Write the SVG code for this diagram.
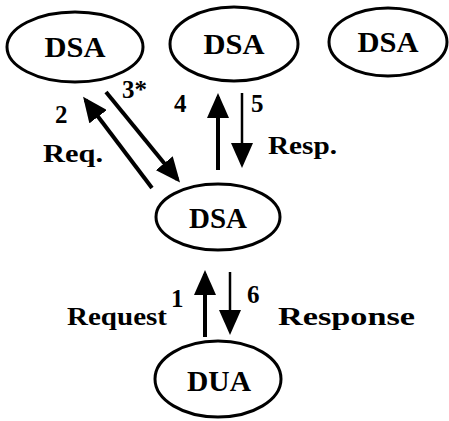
<svg xmlns="http://www.w3.org/2000/svg" width="449" height="421" viewBox="0 0 449 421">
<style>
.node ellipse{fill:#fff;stroke:#000;stroke-width:3}
.req{stroke:#000;stroke-width:4;fill:none}
.resp{stroke:#000;stroke-width:2.5;fill:none}
</style>
<defs>
<marker id="ah" viewBox="0 0 25 22" refX="21" refY="11" markerWidth="25" markerHeight="22" markerUnits="userSpaceOnUse" orient="auto">
<path d="M0,0 L25,11 L0,22 z" fill="#000"/>
</marker>
</defs>
<rect width="449" height="421" fill="#fff"/>
<g id="dsa-left" class="node"><ellipse cx="75" cy="47" rx="68" ry="35"/><text x="75" y="57" font-family="Liberation Serif" font-weight="bold" font-size="29" text-anchor="middle" textLength="61" lengthAdjust="spacingAndGlyphs">DSA</text></g>
<g id="dsa-mid" class="node"><ellipse cx="234" cy="44" rx="64" ry="37"/><text x="234" y="54" font-family="Liberation Serif" font-weight="bold" font-size="29" text-anchor="middle" textLength="61" lengthAdjust="spacingAndGlyphs">DSA</text></g>
<g id="dsa-right" class="node"><ellipse cx="388" cy="42" rx="59" ry="34"/><text x="388" y="52" font-family="Liberation Serif" font-weight="bold" font-size="29" text-anchor="middle" textLength="61" lengthAdjust="spacingAndGlyphs">DSA</text></g>
<g id="dsa-center" class="node"><ellipse cx="218" cy="217" rx="62" ry="33"/><text x="218" y="228" font-family="Liberation Serif" font-weight="bold" font-size="29" text-anchor="middle" textLength="58" lengthAdjust="spacingAndGlyphs">DSA</text></g>
<g id="dua" class="node"><ellipse cx="218" cy="379" rx="63" ry="38"/><text x="219" y="391" font-family="Liberation Serif" font-weight="bold" font-size="29" text-anchor="middle" textLength="64" lengthAdjust="spacingAndGlyphs">DUA</text></g>
<g id="connectors">
<line class="req" x1="152" y1="188" x2="85.5" y2="100" marker-end="url(#ah)"/>
<line class="req" x1="106" y1="92" x2="177.5" y2="179.5" marker-end="url(#ah)"/>
<line class="req" x1="218" y1="170" x2="218" y2="97" marker-end="url(#ah)"/>
<line class="resp" x1="242" y1="93" x2="242" y2="164" marker-end="url(#ah)"/>
<line class="req" x1="205" y1="337" x2="205" y2="274" marker-end="url(#ah)"/>
<line class="resp" x1="230" y1="272" x2="230" y2="331" marker-end="url(#ah)"/>
</g>
<g id="labels">
<text x="55" y="123" font-family="Liberation Serif" font-weight="bold" font-size="25">2</text>
<text x="43" y="162" font-family="Liberation Serif" font-weight="bold" font-size="25" textLength="60" lengthAdjust="spacingAndGlyphs">Req.</text>
<text x="122" y="98" font-family="Liberation Serif" font-weight="bold" font-size="25">3*</text>
<text x="174" y="112" font-family="Liberation Serif" font-weight="bold" font-size="25">4</text>
<text x="251" y="112" font-family="Liberation Serif" font-weight="bold" font-size="25">5</text>
<text x="268" y="154" font-family="Liberation Serif" font-weight="bold" font-size="25" textLength="69" lengthAdjust="spacingAndGlyphs">Resp.</text>
<text x="171" y="307" font-family="Liberation Serif" font-weight="bold" font-size="25">1</text>
<text x="247" y="303" font-family="Liberation Serif" font-weight="bold" font-size="25">6</text>
<text x="67" y="325" font-family="Liberation Serif" font-weight="bold" font-size="25" textLength="100" lengthAdjust="spacingAndGlyphs">Request</text>
<text x="278" y="325" font-family="Liberation Serif" font-weight="bold" font-size="25" textLength="137" lengthAdjust="spacingAndGlyphs">Response</text>
</g>
</svg>
